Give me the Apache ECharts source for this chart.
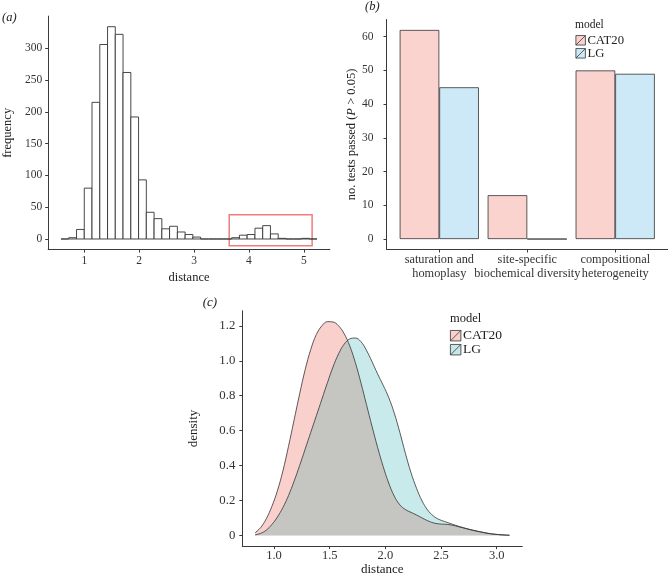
<!DOCTYPE html>
<html><head><meta charset="utf-8">
<script src="https://cdn.jsdelivr.net/npm/echarts@6/dist/echarts.min.js"></script>
<style>html,body{margin:0;padding:0;background:#fff}#c{width:668px;height:577px}</style>
</head><body><div id="c"></div>
<script>
// ---------- data ----------
// (a) histogram of distances: bin edges and counts
const histBreaks = [0.576,0.717,0.859,1.000,1.141,1.283,1.424,1.565,1.706,1.848,1.989,2.130,2.272,2.413,2.554,2.696,2.837,2.978,3.119,3.261,3.402,3.543,3.685,3.826,3.967,4.109,4.250,4.391,4.532,4.674,4.815,4.956,5.098,5.239];
const histCounts = [0,2,15,80,215,306,334,322,262,192,93,42,32,16,20,11,7,3,0,0,0,0,2,6,7,17,21,8,1,0,0,1,0];
const histXTicks = [1,2,3,4,5];
const histYTicks = [0,50,100,150,200,250,300];
const outlierBoxX = [3.64, 5.15];
const outlierBoxY = [-10.5, 38];

// (b) number of tests passed
const testCategories = ['saturation and\nhomoplasy','site-specific\nbiochemical diversity','compositional\nheterogeneity'];
const testsCAT20 = [62, 13, 50];
const testsLG = [45, 0, 49];
const testsYTicks = [0,10,20,30,40,50,60];

// (c) density of distances
const densityX = [0.83,0.88,0.93,0.98,1.03,1.08,1.13,1.18,1.23,1.28,1.33,1.38,1.43,1.48,1.53,1.58,1.63,1.68,1.73,1.78,1.83,1.88,1.93,1.98,2.03,2.08,2.13,2.18,2.23,2.28,2.33,2.38,2.43,2.48,2.53,2.58,2.63,2.68,2.73,2.78,2.83,2.88,2.93,2.98,3.03,3.08,3.115];
const densityCAT20 = [0.015,0.045,0.095,0.165,0.255,0.37,0.51,0.66,0.81,0.95,1.065,1.15,1.20,1.224,1.222,1.20,1.155,1.085,0.99,0.875,0.75,0.625,0.505,0.395,0.30,0.225,0.175,0.148,0.132,0.117,0.100,0.084,0.072,0.066,0.064,0.061,0.054,0.046,0.038,0.030,0.023,0.017,0.011,0.007,0.004,0.002,0.001];
const densityLG = [0.003,0.012,0.03,0.062,0.105,0.16,0.228,0.31,0.40,0.495,0.59,0.685,0.78,0.875,0.965,1.04,1.095,1.125,1.13,1.11,1.06,0.995,0.925,0.86,0.79,0.70,0.59,0.47,0.36,0.27,0.197,0.145,0.112,0.092,0.080,0.069,0.058,0.048,0.039,0.031,0.024,0.017,0.011,0.007,0.004,0.002,0.001];
const densityXTicks = [1.0,1.5,2.0,2.5,3.0];
const densityYTicks = [0,0.2,0.4,0.6,0.8,1.0,1.2];
const models = ['CAT20','LG'];

// ---------- chart ----------
const FONT = 'Liberation Serif';
const AX = '#3a3a3a';
const LBL = '#333';
const ICON = 'path://M0 0H10V10H0Z M0 10L10 0';

function valAxis(o){
  return Object.assign({
    type:'value', scale:false,
    splitLine:{show:false},
    axisLine:{show:true, onZero:false, lineStyle:{color:AX, width:1}},
    axisTick:{show:true, length:3, lineStyle:{color:AX, width:1}, customValues:o.ticks},
    axisLabel:{show:o.showLabel!==false, customValues:o.ticks, fontFamily:FONT, fontSize:o.fs, color:LBL, margin:o.margin, formatter:o.fmt,
      showMinLabel:true, showMaxLabel:true},
    nameLocation:'middle',
    nameTextStyle:{fontFamily:FONT, fontSize:o.nfs, color:'#222'}
  }, o.extra);
}

const chart = echarts.init(document.getElementById('c'), null, {renderer:'canvas'});
const option = {
  animation:false,
  backgroundColor:'#fff',
  grid:[
    {left:48.2, top:16.1, width:281.6, height:233.5},
    {left:386.5, top:19.5, width:281.5, height:230},
    {left:242.3, top:310.8, width:280, height:237.3},
    {left:395.3, top:19.5, width:264, height:230}
  ],
  xAxis:[
    valAxis({ticks:histXTicks, fs:11.5, nfs:12.5, margin:5, fmt:v=>String(v), extra:{gridIndex:0, min:0.343, max:5.472, name:'distance', nameGap:21.6}}),
    valAxis({ticks:[1,2,3], showLabel:false, fs:13, nfs:12.5, margin:3, fmt:v=>String(v), extra:{gridIndex:1, min:0.4, max:3.6}}),
    valAxis({ticks:densityXTicks, fs:12.5, nfs:13, margin:3, fmt:v=>v.toFixed(1), extra:{gridIndex:2, min:0.715, max:3.23, name:'distance', nameGap:15.3}}),
    {type:'category', gridIndex:3, data:testCategories, boundaryGap:true,
     axisLine:{show:false}, axisTick:{show:false}, splitLine:{show:false},
     axisLabel:{interval:0, fontFamily:FONT, fontSize:12.3, lineHeight:14, color:LBL, margin:3}}
  ],
  yAxis:[
    valAxis({ticks:histYTicks, fs:11.5, nfs:12.5, margin:6, fmt:v=>String(v), extra:{gridIndex:0, min:-16.7, max:350.7, name:'frequency', nameGap:34}}),
    valAxis({ticks:testsYTicks, fs:11.5, nfs:12.5, margin:13, fmt:v=>String(v), extra:{gridIndex:1, min:-3.1, max:65.1,
      name:'{n|no. tests passed (}{i|P}{n| > 0.05)}', nameGap:24.7,
      nameTextStyle:{rich:{n:{fontFamily:FONT, fontSize:12.5, color:'#222'}, i:{fontFamily:FONT, fontSize:12.5, fontStyle:'italic', color:'#222'}}}}}),
    valAxis({ticks:densityYTicks, fs:12.8, nfs:13, margin:7, fmt:v=>v===0?'0':v.toFixed(1), extra:{gridIndex:2, min:-0.0612, max:1.286, name:'density', nameGap:42.5}}),
    {type:'value', gridIndex:3, show:false, min:-3.1, max:65.1}
  ],
  legend:[
    {orient:'vertical', left:575.5, top:33.8, padding:0, itemWidth:9.5, itemHeight:9.5, itemGap:0, selectedMode:false,
     textStyle:{fontFamily:FONT, fontSize:12.7, color:'#222', padding:[0,0,0,-3]},
     data:[
       {name:models[0], icon:ICON, itemStyle:{color:'#FAD3CF', borderColor:'#333', borderWidth:0.8}},
       {name:models[1], icon:ICON, itemStyle:{color:'#CDE9F8', borderColor:'#333', borderWidth:0.8}}
     ]},
    {orient:'vertical', left:450, top:328.7, padding:0, itemWidth:10.5, itemHeight:10.5, itemGap:0, selectedMode:false,
     textStyle:{fontFamily:FONT, fontSize:13.5, color:'#222', padding:[0,0,0,-3]},
     data:[
       {name:models[0], icon:ICON, itemStyle:{color:'#FAD0CC', borderColor:'#333', borderWidth:0.8}},
       {name:models[1], icon:ICON, itemStyle:{color:'#C6E7EA', borderColor:'#333', borderWidth:0.8}}
     ]}
  ],
  graphic:[
    {type:'text', left:2, top:11, style:{text:'(a)', font:'italic 12.5px "Liberation Serif"', fill:'#222'}},
    {type:'text', left:365, top:0, style:{text:'(b)', font:'italic 12.5px "Liberation Serif"', fill:'#222'}},
    {type:'text', left:202.7, top:296, style:{text:'(c)', font:'italic 13px "Liberation Serif"', fill:'#222'}},
    {type:'text', left:575, top:19, style:{text:'model', font:'11.5px "Liberation Serif"', fill:'#222'}},
    {type:'text', left:450, top:312, style:{text:'model', font:'12.5px "Liberation Serif"', fill:'#222'}}
  ],
  series:[
    {
      type:'custom', name:'histogram', xAxisIndex:0, yAxisIndex:0,
      data: histCounts.map((c,i)=>[histBreaks[i], histBreaks[i+1], c]),
      encode:{x:[0,1], y:2},
      renderItem:function(params, api){
        const p0 = api.coord([api.value(0), api.value(2)]);
        const p1 = api.coord([api.value(1), 0]);
        return {type:'rect', shape:{x:p0[0], y:p0[1], width:p1[0]-p0[0], height:p1[1]-p0[1]},
          style:{fill:'#fff', stroke:'#333', lineWidth:0.9}};
      },
      markArea:{silent:true, itemStyle:{color:'rgba(0,0,0,0)', borderColor:'#EE7E7E', borderWidth:1.5},
        data:[[{coord:[outlierBoxX[0], outlierBoxY[1]]},{coord:[outlierBoxX[1], outlierBoxY[0]]}]]}
    },
    {type:'bar', name:models[0], xAxisIndex:1, yAxisIndex:1, barWidth:39.6, barGap:'0%',
     data:testsCAT20.map((v,i)=>[i+1,v]),
     itemStyle:{color:'#FAD3CF', borderColor:'#333', borderWidth:0.8}},
    {type:'bar', name:models[1], xAxisIndex:1, yAxisIndex:1, barWidth:39.6, barGap:'0%',
     data:testsLG.map((v,i)=>[i+1,v]),
     itemStyle:{color:'#CDE9F8', borderColor:'#333', borderWidth:0.8}},
    {type:'line', name:models[0], xAxisIndex:2, yAxisIndex:2, showSymbol:false, smooth:0.4,
     data:densityX.map((x,i)=>[x, densityCAT20[i]]),
     lineStyle:{color:'#333', width:0.8}, itemStyle:{color:'#F8766D'},
     areaStyle:{color:'rgba(240,110,100,0.32)', opacity:1}},
    {type:'line', name:models[1], xAxisIndex:2, yAxisIndex:2, showSymbol:false, smooth:0.4,
     data:densityX.map((x,i)=>[x, densityLG[i]]),
     lineStyle:{color:'#333', width:0.8}, itemStyle:{color:'#00BFC4'},
     areaStyle:{color:'rgba(0,155,155,0.21)', opacity:1}}
  ]
};
chart.setOption(option);
</script>
</body></html>
